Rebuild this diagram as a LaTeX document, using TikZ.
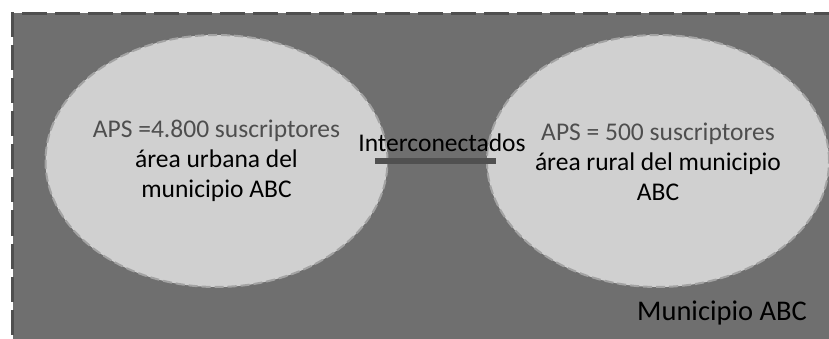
\documentclass[tikz,border=0pt]{standalone}
\usepackage{fontspec}
\setmainfont{Carlito}
\definecolor{bgdark}{HTML}{6F6F6F}
\definecolor{bgborder}{HTML}{4F4F4F}
\definecolor{ellfill}{HTML}{D0D0D0}
\definecolor{ellborder}{HTML}{A3A3A3}
\definecolor{apsgray}{HTML}{4E4E4E}
\definecolor{barcol}{HTML}{505050}
\tikzset{
  region/.style={ellipse, minimum width=342pt, minimum height=252pt, fill=ellfill, draw=ellborder, line width=2pt, dash pattern=on 9pt off 4pt, inner sep=0pt},
  lbl/.style={align=center, font=\fontsize{25.5pt}{30pt}\selectfont, text=black},
}
\usetikzlibrary{shapes.geometric}
\begin{document}
\begin{tikzpicture}[x=1pt,y=-1pt]
\useasboundingbox (0,0) rectangle (829,339);
\begin{scope}
\clip (0,0) rectangle (829,339);
\node[draw=bgborder, fill=bgdark, line width=3pt, dash pattern=on 25pt off 8pt, minimum width=860pt, minimum height=360pt, anchor=north west, inner sep=0pt] (muni) at (11,12) {};
\end{scope}
\node[region] (urb) at (216.5,161) {};
\node[region] (rur) at (658,161) {};
\node[lbl] (urbtxt) at (216.5,161) {\textcolor{apsgray}{APS =4.800 suscriptores}\\área urbana del\\municipio ABC};
\node[lbl] (rurtxt) at (658,162) {\textcolor{apsgray}{APS = 500 suscriptores}\\área rural del municipio\\ABC};
\coordinate (barl) at (375,161);
\coordinate (barr) at (496,161);
\draw[barcol, line width=6pt] (barl) -- (barr);
\node[lbl, anchor=center] (inter) at (442,143) {Interconectados};
\node[lbl, anchor=center, font=\fontsize{28.5pt}{32pt}\selectfont] (munilbl) at (722,313) {Municipio ABC};
\end{tikzpicture}
\end{document}
